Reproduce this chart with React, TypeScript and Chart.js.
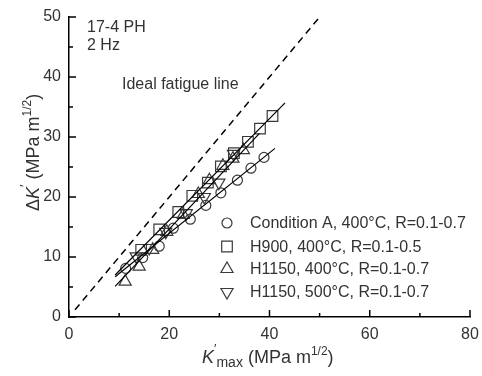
import React, { useEffect, useRef } from "react";
import { Chart, registerables } from "chart.js";

Chart.register(...registerables);

const condAX = [11.3, 14.7, 18.0, 20.8, 24.2, 27.3, 30.3, 33.6, 36.3, 38.9];
const condAY = [8.1, 9.9, 11.8, 14.8, 16.3, 18.6, 20.7, 22.8, 24.8, 26.6];
const h900X = [14.4, 18.0, 21.8, 24.6, 27.7, 30.3, 32.9, 35.7, 38.1, 40.6];
const h900Y = [11.2, 14.6, 17.5, 20.2, 22.4, 25.1, 27.3, 29.2, 31.4, 33.5];
const h1150aX = [11.2, 14.0, 16.7, 19.5, 22.8, 25.8, 28.0, 30.7, 32.7, 34.8];
const h1150aY = [5.9, 8.4, 11.2, 14.2, 17.0, 20.5, 22.8, 25.2, 26.4, 27.8];
const h1150bX = [13.4, 16.0, 19.3, 23.4, 27.0, 29.9, 32.8];
const h1150bY = [10.1, 11.5, 14.2, 17.3, 20.0, 22.4, 27.2];

const fitAX = [9.2, 41.1];
const fitAY = [6.7, 28.1];
const fit900X = [9.2, 43.1];
const fit900Y = [7.0, 35.7];
const fit1150X = [9.2, 38.0];
const fit1150Y = [5.1, 30.6];
const idealX = [1.2, 49.8];
const idealY = [1.2, 49.8];

const xTicks = [0, 20, 40, 60, 80];
const yTicks = [0, 10, 20, 30, 40, 50];
const xMinor = [10, 30, 50, 70];
const yMinor = [5, 15, 25, 35, 45];

const legendLabels = [
  "Condition A, 400°C, R=0.1-0.7",
  "H900, 400°C, R=0.1-0.5",
  "H1150, 400°C, R=0.1-0.7",
  "H1150, 500°C, R=0.1-0.7",
];

const FONT = "'Liberation Sans', Arial, sans-serif";
const TXT = "#333";
const MK = "#3a3a3a";

const zip = (xs: number[], ys: number[]) => xs.map((x, i) => ({ x, y: ys[i] }));

function drawMarker(ctx: CanvasRenderingContext2D, kind: number, x: number, y: number) {
  ctx.save();
  ctx.strokeStyle = MK;
  ctx.lineWidth = 1.2;
  ctx.beginPath();
  if (kind === 0) {
    ctx.arc(x, y, 5, 0, Math.PI * 2);
  } else if (kind === 1) {
    const s = 5.3;
    ctx.rect(x - s, y - s, 2 * s, 2 * s);
  } else if (kind === 2) {
    const r = 7;
    ctx.moveTo(x, y - r);
    ctx.lineTo(x + r * Math.sin(Math.PI / 3), y + r / 2);
    ctx.lineTo(x - r * Math.sin(Math.PI / 3), y + r / 2);
    ctx.closePath();
  } else {
    const r = 7;
    ctx.moveTo(x, y + r);
    ctx.lineTo(x + r * Math.sin(Math.PI / 3), y - r / 2);
    ctx.lineTo(x - r * Math.sin(Math.PI / 3), y - r / 2);
    ctx.closePath();
  }
  ctx.stroke();
  ctx.restore();
}

type Seg = { t: string; size: number; dy: number; italic?: boolean };

function drawRich(ctx: CanvasRenderingContext2D, segs: Seg[], x: number, y: number) {
  let cx = x;
  for (const s of segs) {
    ctx.font = `${s.italic ? "italic " : ""}${s.size}px ${FONT}`;
    ctx.fillText(s.t, cx, y + s.dy);
    cx += ctx.measureText(s.t).width;
  }
}

const overlay = {
  id: "overlay",
  afterDraw(chart: any) {
    const ctx: CanvasRenderingContext2D = chart.ctx;
    const xs = chart.scales.x;
    const ys = chart.scales.y;
    const { left, bottom } = chart.chartArea;
    ctx.save();
    ctx.strokeStyle = "#000";
    ctx.lineWidth = 1.5;
    ctx.beginPath();
    for (const v of xTicks) {
      const px = xs.getPixelForValue(v);
      ctx.moveTo(px, bottom);
      ctx.lineTo(px, bottom - 7);
    }
    for (const v of xMinor) {
      const px = xs.getPixelForValue(v);
      ctx.moveTo(px, bottom);
      ctx.lineTo(px, bottom - 4);
    }
    for (const v of yTicks) {
      const py = ys.getPixelForValue(v);
      ctx.moveTo(left, py);
      ctx.lineTo(left + 7, py);
    }
    for (const v of yMinor) {
      const py = ys.getPixelForValue(v);
      ctx.moveTo(left, py);
      ctx.lineTo(left + 4, py);
    }
    ctx.stroke();

    ctx.fillStyle = TXT;
    ctx.textBaseline = "alphabetic";
    ctx.textAlign = "left";
    ctx.font = `16px ${FONT}`;
    ctx.fillText("17-4 PH", 87, 32);
    ctx.fillText("2 Hz", 87, 50);
    ctx.fillText("Ideal fatigue line", 122, 89);

    // legend
    const rows = [223, 246.5, 269, 292];
    rows.forEach((ry, i) => {
      drawMarker(ctx, i, 227, ry);
      ctx.fillStyle = TXT;
      ctx.font = `16px ${FONT}`;
      ctx.textBaseline = "middle";
      ctx.fillText(legendLabels[i], 250, ry + 1);
    });

    // axis titles
    ctx.textBaseline = "alphabetic";
    ctx.fillStyle = TXT;
    const xt: Seg[] = [
      { t: "K", size: 18, dy: 0, italic: true },
      { t: "\u2032", size: 13, dy: -10 },
      { t: "max", size: 14, dy: 4 },
      { t: " (MPa m", size: 18, dy: 0 },
      { t: "1/2", size: 12, dy: -8 },
      { t: ")", size: 18, dy: 0 },
    ];
    drawRich(ctx, xt, 202, 363);

    ctx.save();
    ctx.translate(39, 211);
    ctx.rotate(-Math.PI / 2);
    const yt: Seg[] = [
      { t: "Δ", size: 18, dy: 0 },
      { t: "K", size: 18, dy: 0, italic: true },
      { t: "\u2032", size: 13, dy: -10 },
      { t: " (MPa m", size: 18, dy: 0 },
      { t: "1/2", size: 12, dy: -8 },
      { t: ")", size: 18, dy: 0 },
    ];
    drawRich(ctx, yt, 0, 0);
    ctx.restore();
    ctx.restore();
  },
};

const pointDs = (label: string, xs: number[], ys: number[], style: string, r: number, rot = 0) => ({
  label,
  data: zip(xs, ys),
  showLine: false,
  pointStyle: style,
  pointRadius: r,
  pointRotation: rot,
  pointBorderColor: MK,
  pointBackgroundColor: "rgba(0,0,0,0)",
  pointBorderWidth: 1.2,
  borderColor: MK,
  backgroundColor: "rgba(0,0,0,0)",
});

const lineDs = (xs: number[], ys: number[], dash: number[] = [], w = 1.2) => ({
  label: "",
  data: zip(xs, ys),
  showLine: true,
  pointRadius: 0,
  borderColor: "#000",
  borderWidth: w,
  borderDash: dash,
  fill: false,
});

export default function App() {
  const ref = useRef<HTMLCanvasElement | null>(null);
  useEffect(() => {
    if (!ref.current) return;
    const chart = new Chart(ref.current, {
      type: "scatter",
      data: {
        datasets: [
          lineDs(idealX, idealY, [7, 5], 1.5),
          lineDs(fitAX, fitAY),
          lineDs(fit900X, fit900Y),
          lineDs(fit1150X, fit1150Y),
          pointDs("A", condAX, condAY, "circle", 5),
          pointDs("H900", h900X, h900Y, "rect", 7.5),
          pointDs("H1150a", h1150aX, h1150aY, "triangle", 7),
          pointDs("H1150b", h1150bX, h1150bY, "triangle", 7, 180),
        ] as any,
      },
      options: {
        animation: false,
        responsive: true,
        maintainAspectRatio: false,
        layout: { padding: { top: 17, right: 12, left: 0, bottom: 0 } },
        plugins: { legend: { display: false }, tooltip: { enabled: false } },
        scales: {
          x: {
            type: "linear",
            min: 0,
            max: 80,
            afterFit: (s: any) => { s.height = 59; s.paddingLeft = 0; s.paddingRight = 0; },
            afterBuildTicks: (s: any) => { s.ticks = xTicks.map((v) => ({ value: v })); },
            grid: { display: false, drawTicks: false },
            border: { display: true, color: "#000", width: 1.5 },
            ticks: { color: TXT, font: { family: FONT, size: 16 }, padding: 8 },
          },
          y: {
            type: "linear",
            min: 0,
            max: 50,
            afterFit: (s: any) => { s.width = 69; s.paddingTop = 0; s.paddingBottom = 0; },
            afterBuildTicks: (s: any) => { s.ticks = yTicks.map((v) => ({ value: v })); },
            grid: { display: false, drawTicks: false },
            border: { display: true, color: "#000", width: 1.5 },
            ticks: { color: TXT, font: { family: FONT, size: 16 }, padding: 8 },
          },
        },
      },
      plugins: [overlay],
    });
    return () => chart.destroy();
  }, []);
  return (
    <div style={{ position: "fixed", left: 0, top: 0, width: 482, height: 376, background: "#fff" }}>
      <canvas ref={ref} />
    </div>
  );
}
